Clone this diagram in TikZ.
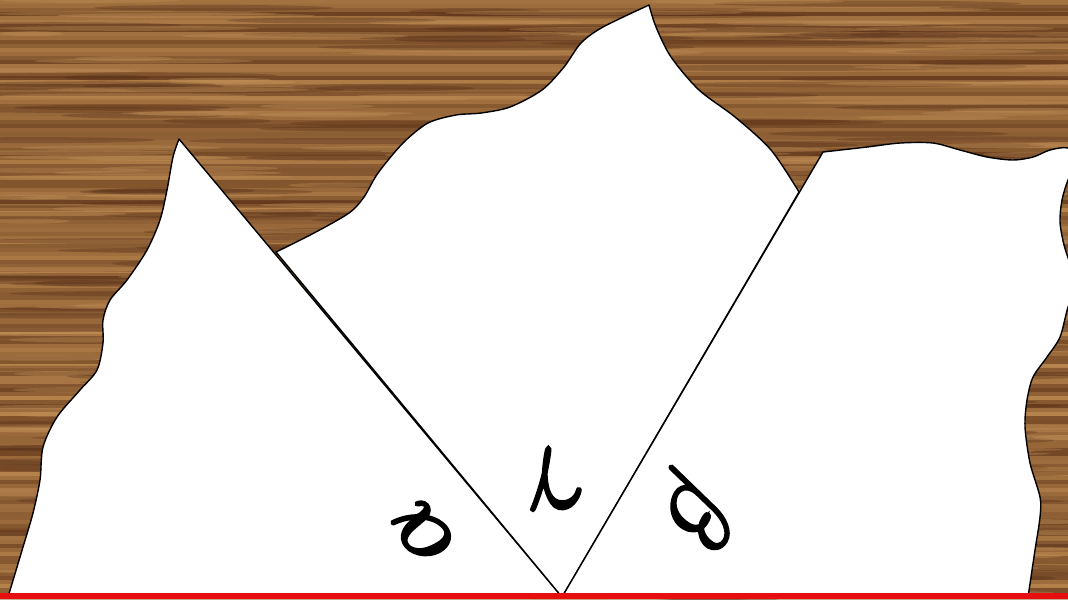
\documentclass[tikz,border=0pt]{standalone}
\usepackage{amsmath,amssymb}
\usepackage{fontspec}
\usepackage{tikz}
\usepackage{xcolor}
\usetikzlibrary{calc,positioning}
\newfontfamily\greekfont[FakeBold=3.5]{latinmodern-math.otf}
\definecolor{WoodMid}{HTML}{93602F}
\definecolor{WoodDark}{HTML}{4E2814}
\definecolor{WoodLight}{HTML}{C4925A}
\definecolor{TornRed}{HTML}{E60E0E}
\tikzset{
  piece/.style={fill=white, draw=black, line width=0.4pt, line join=round},
  anglabel/.style={font=\greekfont\fontsize{27}{30}\selectfont, inner sep=0pt}
}

\begin{document}
\begin{tikzpicture}[x=0.01cm, y=-0.01cm]
    \useasboundingbox (0,0) rectangle (1068,599);
    \clip (0,0) rectangle (1068,599);

    % Wooden table
    \fill[WoodMid] (0,0) rectangle (1068,599);
    \pgfmathsetseed{17}
    \foreach \yy in {0,4,...,596} {
        \pgfmathsetmacro{\tone}{60+28*sin(\yy*23)+25*rand}
        \fill[WoodLight!\tone!WoodDark, opacity=0.6] (0,\yy) rectangle (1068,\yy+4);
    }
    \foreach \k in {1,...,240} {
        \pgfmathsetmacro{\sx}{rnd*1068}
        \pgfmathsetmacro{\sy}{rnd*599}
        \pgfmathsetmacro{\sl}{40+rnd*150}
        \fill[WoodDark, opacity=0.3] (\sx,\sy) ellipse [x radius=\sl, y radius=3];
    }
    \foreach \k in {1,...,220} {
        \pgfmathsetmacro{\sx}{rnd*1068}
        \pgfmathsetmacro{\sy}{rnd*599}
        \pgfmathsetmacro{\sl}{30+rnd*120}
        \fill[WoodLight, opacity=0.35] (\sx,\sy) ellipse [x radius=\sl, y radius=2.5];
    }

    % Common corner of the three torn pieces
    \coordinate (tip) at (562,597);

    % Piece alpha
    \draw[piece] (tip) -- (179,139)
        -- plot[smooth] coordinates {(179,139) (173,157) (167,190) (160,220) (147,250)
           (127,280) (110,300) (103,320) (103,343) (97,370) (80,390) (57,417)
           (43,447) (40,480) (33,513) (23,547) (8,597)}
        -- cycle;

    % Piece gamma
    \draw[piece] (tip) -- (276,252)
        -- plot[smooth] coordinates {(276,252) (314,233) (349,213) (364,197) (378,173)
           (403,143) (428,123) (456,115) (481,113) (510,107) (542,90) (564,67)
           (581,43) (603,27) (649,5)}
        -- plot[smooth] coordinates {(649,5) (656,27) (671,57) (699,90) (735,117)
           (771,150) (799,192)}
        -- cycle;

    % Piece beta
    \draw[piece] (tip) -- (823,152)
        -- plot[smooth] coordinates {(823,152) (867,147) (900,143) (933,143) (960,150)
           (987,157) (1013,160) (1033,157) (1050,150) (1068,148) (1078,160)
           (1068,180) (1062,200) (1060,222) (1064,245) (1072,270) (1076,290)
           (1068,307) (1060,337) (1047,357) (1033,377) (1027,400) (1025,427)
           (1030,463) (1040,497) (1040,517) (1035,550) (1028,597)}
        -- cycle;

    % Angle names
    \node[anglabel, rotate=130] (alpha) at (422,532) {\char"1D6FC};
    \node[anglabel, rotate=185] (gamma) at (556,478) {\char"1D6FE};
    \node[anglabel, rotate=-120] (beta) at (696,508) {\char"1D6FD};

    % Straight line
    \fill[TornRed] (0,593) rectangle (1068,599);
\end{tikzpicture}
\end{document}
